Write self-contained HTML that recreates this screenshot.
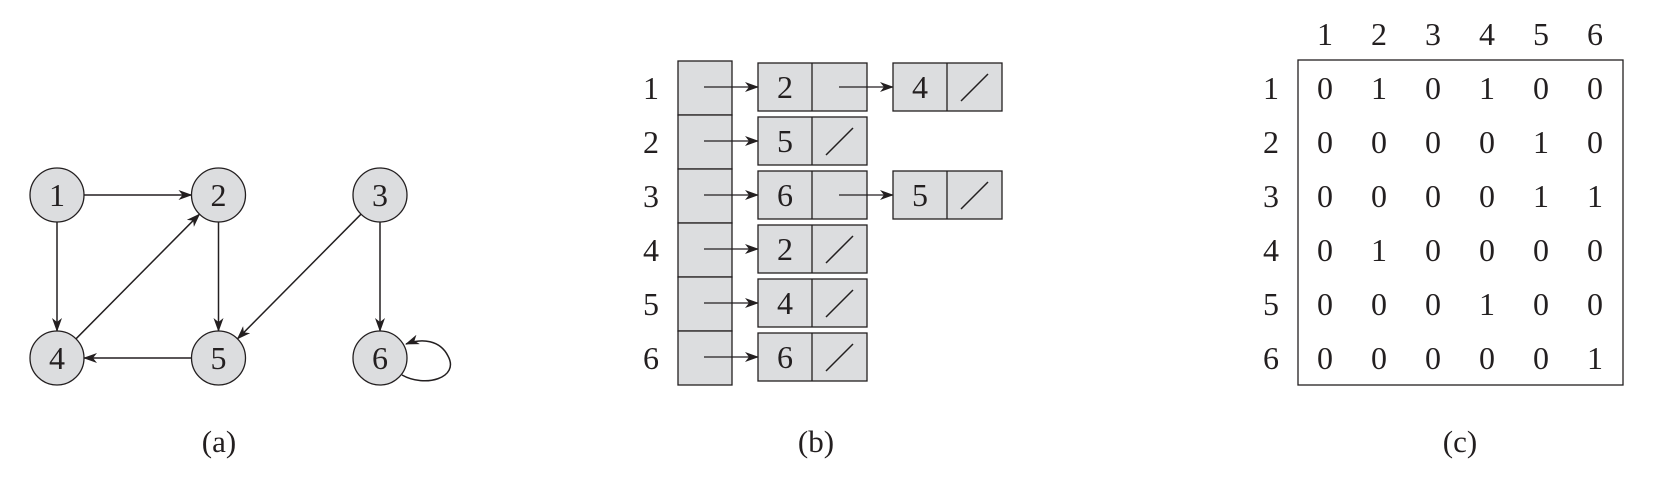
<!DOCTYPE html>
<html><head><meta charset="utf-8"><style>
html,body{margin:0;padding:0;background:#fff;}
svg{display:block;}
text{font-family:"Liberation Serif","DejaVu Serif",serif;fill:#231f20;}
</style></head><body>
<svg id="fig" width="1665" height="495" viewBox="0 0 1665 495" xmlns="http://www.w3.org/2000/svg" font-family="Liberation Serif, DejaVu Serif, serif">
<defs>
<marker id="ah" viewBox="0 0 14 10" refX="13" refY="5" markerWidth="14" markerHeight="10" markerUnits="userSpaceOnUse" orient="auto">
<path d="M0,0 L14,5 L0,10 L4,5 Z" fill="#231f20"/></marker>
</defs>
<g id="ga"></g>
<g id="gb"></g>
<g id="gc"></g>
<text x="219" y="452" font-size="31" text-anchor="middle">(a)</text>
<text x="816" y="452" font-size="31" text-anchor="middle">(b)</text>
<text x="1460" y="452" font-size="31" text-anchor="middle">(c)</text>
</svg>
<script>
const vertices = [1,2,3,4,5,6];
const nodeCol = [0,1,2,0,1,2];
const nodeRow = [0,0,0,1,1,1];
const edges = [[1,2],[1,4],[2,5],[3,5],[3,6],[4,2],[5,4],[6,6]];
const adjLists = [[2,4],[5],[6,5],[2],[4],[6]];
const matrix = [
 [0,1,0,1,0,0],
 [0,0,0,0,1,0],
 [0,0,0,0,1,1],
 [0,1,0,0,0,0],
 [0,0,0,1,0,0],
 [0,0,0,0,0,1]];
const NS='http://www.w3.org/2000/svg';
const FS=32;
function mk(tag,attrs,parent,txt){const e=document.createElementNS(NS,tag);for(const k in attrs)e.setAttribute(k,attrs[k]);if(txt!==undefined)e.textContent=txt;parent.appendChild(e);return e;}
// (a)
const ga=document.getElementById('ga');
const R=27;
const px=c=>57+c*161.5, py=r=>195+r*163;
const pos=v=>[px(nodeCol[v-1]),py(nodeRow[v-1])];
edges.forEach(([a,b])=>{
  let e;
  if(a===b){const [x,y]=pos(a);
    e=mk('path',{d:`M${x+22},${y+17} C${x+45},${y+30} ${x+80},${y+20} ${x+68},${y-2} C${x+60},${y-18} ${x+42},${y-20} ${x+26},${y-14}`,fill:'none',stroke:'#231f20','stroke-width':1.5,'marker-end':'url(#ah)'},ga);
  } else {
    const [x1,y1]=pos(a),[x2,y2]=pos(b);const dx=x2-x1,dy=y2-y1,L=Math.hypot(dx,dy);
    e=mk('line',{x1:x1+dx/L*R,y1:y1+dy/L*R,x2:x2-dx/L*R,y2:y2-dy/L*R,stroke:'#231f20','stroke-width':1.5,'marker-end':'url(#ah)'},ga);
  }
  
  
});
vertices.forEach(v=>{const [x,y]=pos(v);
  const c=mk('circle',{cx:x,cy:y,r:R,fill:'#dcdddf',stroke:'#231f20','stroke-width':1.3},ga);
  
  
  const t=mk('text',{x:x,y:y+11,'font-size':FS,'text-anchor':'middle'},ga,String(v));
  
  
});
// (b)
const gb=document.getElementById('gb');
const rowTop=i=>61+i*54;
vertices.forEach((v,i)=>{
  const t=mk('text',{x:651,y:rowTop(i)+38,'font-size':FS,'text-anchor':'middle'},gb,String(v));
  
  
  const r=mk('rect',{x:678,y:rowTop(i),width:54,height:54,fill:'#dcdddf',stroke:'#231f20','stroke-width':1.3},gb);
  
  
  const cy=rowTop(i)+26;
  adjLists[i].forEach((n,j)=>{
    const nx=758+j*135;
    const ar=mk('line',{x1:j===0?704:nx-54,y1:cy,x2:nx,y2:cy,stroke:'#231f20','stroke-width':1.3,'marker-end':'url(#ah)'},gb);
    
    
    const b=mk('rect',{x:nx,y:rowTop(i)+2,width:109,height:48,fill:'#dcdddf',stroke:'#231f20','stroke-width':1.3},gb);
    
    
    mk('line',{x1:nx+54,y1:rowTop(i)+2,x2:nx+54,y2:rowTop(i)+50,stroke:'#231f20','stroke-width':1.3},gb);
    const tt=mk('text',{x:nx+27,y:cy+11,'font-size':FS,'text-anchor':'middle'},gb,String(n));
    
    
    if(j===adjLists[i].length-1){
      mk('line',{x1:nx+68,y1:cy+14,x2:nx+95,y2:cy-13,stroke:'#231f20','stroke-width':1.5},gb);
    }
  });
});
// (c)
const gc=document.getElementById('gc');
const bx=mk('rect',{x:1298,y:60,width:325,height:325,fill:'none',stroke:'#231f20','stroke-width':1.3},gc);


const cx=j=>1325+j*54, cyy=i=>88+i*54;
vertices.forEach((v,j)=>{
  const t=mk('text',{x:cx(j),y:45,'font-size':FS,'text-anchor':'middle'},gc,String(v));
  
  
  const t2=mk('text',{x:1271,y:cyy(j)+11,'font-size':FS,'text-anchor':'middle'},gc,String(v));
  
  
});
matrix.forEach((row,i)=>row.forEach((val,j)=>{
  const t=mk('text',{x:cx(j),y:cyy(i)+11,'font-size':FS,'text-anchor':'middle'},gc,String(val));
  
  
}));
</script>
</body></html>
